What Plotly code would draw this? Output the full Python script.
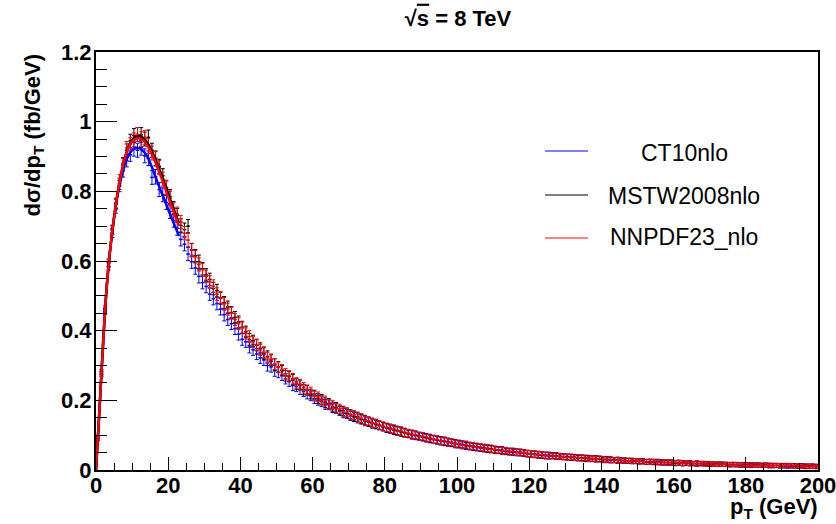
import plotly.graph_objects as go

# ---------------- data ----------------
N_BINS = 200
BIN_WIDTH = 1.0
bin_centers = [BIN_WIDTH * (i + 0.5) for i in range(N_BINS)]

series_names = ["CT10nlo", "MSTW2008nlo", "NNPDF23_nlo"]

ct10_vals = [
    0.094, 0.282, 0.462, 0.585, 0.688, 0.752, 0.815, 0.858, 0.888, 0.905,
    0.921, 0.918, 0.925, 0.902, 0.895, 0.840, 0.842, 0.805, 0.790, 0.768,
    0.742, 0.716, 0.694, 0.662, 0.648, 0.620, 0.598, 0.580, 0.556, 0.538,
    0.527, 0.505, 0.492, 0.478, 0.462, 0.446, 0.432, 0.420, 0.406, 0.390,
    0.375, 0.368, 0.353, 0.345, 0.333, 0.322, 0.316, 0.300, 0.296, 0.285,
    0.280, 0.272, 0.262, 0.255, 0.243, 0.240, 0.231, 0.226, 0.218, 0.213,
    0.205, 0.200, 0.196, 0.188, 0.187, 0.178, 0.176, 0.170, 0.163, 0.162,
    0.155, 0.154, 0.148, 0.146, 0.140, 0.140, 0.133, 0.133, 0.127, 0.125,
    0.120, 0.117, 0.116, 0.111, 0.111, 0.106, 0.104, 0.103, 0.098, 0.098,
    0.094, 0.094, 0.089, 0.089, 0.085, 0.085, 0.081, 0.081, 0.077, 0.077,
    0.073, 0.074, 0.069, 0.070, 0.066, 0.067, 0.063, 0.064, 0.060, 0.061,
    0.058, 0.056, 0.057, 0.053, 0.054, 0.051, 0.052, 0.049, 0.050, 0.046,
    0.047, 0.044, 0.045, 0.042, 0.043, 0.040, 0.042, 0.039, 0.040, 0.037,
    0.038, 0.036, 0.037, 0.034, 0.035, 0.034, 0.032, 0.033, 0.031, 0.032,
    0.029, 0.031, 0.028, 0.029, 0.027, 0.028, 0.026, 0.027, 0.025, 0.026,
    0.024, 0.026, 0.023, 0.024, 0.022, 0.024, 0.021, 0.022, 0.021, 0.022,
    0.019, 0.021, 0.020, 0.019, 0.020, 0.018, 0.019, 0.018, 0.019, 0.017,
    0.017, 0.016, 0.017, 0.016, 0.016, 0.016, 0.015, 0.016, 0.014, 0.015,
    0.015, 0.013, 0.014, 0.014, 0.013, 0.014, 0.012, 0.013, 0.013, 0.012,
    0.013, 0.011, 0.012, 0.012, 0.011, 0.012, 0.010, 0.011, 0.011, 0.010,
]

mstw_vals = [
    0.090, 0.275, 0.455, 0.595, 0.680, 0.765, 0.822, 0.880, 0.918, 0.945,
    0.960, 0.963, 0.962, 0.950, 0.955, 0.918, 0.895, 0.872, 0.845, 0.810,
    0.785, 0.752, 0.731, 0.702, 0.690, 0.700, 0.631, 0.615, 0.598, 0.578,
    0.560, 0.547, 0.521, 0.515, 0.493, 0.480, 0.468, 0.452, 0.438, 0.425,
    0.410, 0.397, 0.375, 0.371, 0.358, 0.349, 0.335, 0.326, 0.316, 0.303,
    0.296, 0.285, 0.270, 0.268, 0.259, 0.247, 0.244, 0.231, 0.229, 0.218,
    0.215, 0.205, 0.203, 0.193, 0.191, 0.182, 0.180, 0.171, 0.170, 0.162,
    0.160, 0.152, 0.153, 0.145, 0.144, 0.137, 0.136, 0.130, 0.129, 0.124,
    0.121, 0.120, 0.114, 0.114, 0.109, 0.108, 0.104, 0.101, 0.101, 0.096,
    0.096, 0.092, 0.091, 0.087, 0.087, 0.083, 0.083, 0.079, 0.079, 0.075,
    0.075, 0.071, 0.072, 0.068, 0.068, 0.065, 0.065, 0.062, 0.061, 0.061,
    0.057, 0.058, 0.055, 0.055, 0.052, 0.053, 0.050, 0.051, 0.048, 0.048,
    0.046, 0.046, 0.043, 0.044, 0.041, 0.042, 0.040, 0.041, 0.038, 0.039,
    0.037, 0.037, 0.036, 0.035, 0.035, 0.033, 0.034, 0.032, 0.033, 0.031,
    0.031, 0.030, 0.030, 0.028, 0.029, 0.027, 0.028, 0.026, 0.027, 0.025,
    0.025, 0.025, 0.023, 0.024, 0.023, 0.022, 0.023, 0.021, 0.022, 0.021,
    0.020, 0.021, 0.019, 0.020, 0.019, 0.019, 0.018, 0.019, 0.017, 0.018,
    0.017, 0.017, 0.016, 0.017, 0.016, 0.015, 0.016, 0.015, 0.015, 0.015,
    0.014, 0.015, 0.014, 0.014, 0.013, 0.014, 0.013, 0.013, 0.013, 0.012,
    0.012, 0.013, 0.012, 0.012, 0.011, 0.012, 0.011, 0.011, 0.011, 0.010,
]

nnpdf_vals = [
    0.088, 0.278, 0.458, 0.592, 0.690, 0.762, 0.832, 0.878, 0.925, 0.935,
    0.948, 0.963, 0.950, 0.955, 0.930, 0.910, 0.893, 0.868, 0.835, 0.812,
    0.780, 0.748, 0.735, 0.712, 0.680, 0.660, 0.632, 0.612, 0.590, 0.575,
    0.556, 0.540, 0.528, 0.505, 0.495, 0.477, 0.462, 0.450, 0.432, 0.420,
    0.408, 0.392, 0.383, 0.368, 0.360, 0.345, 0.338, 0.322, 0.318, 0.304,
    0.295, 0.288, 0.276, 0.270, 0.262, 0.250, 0.246, 0.236, 0.230, 0.224,
    0.212, 0.210, 0.200, 0.198, 0.189, 0.187, 0.177, 0.176, 0.167, 0.166,
    0.158, 0.158, 0.150, 0.149, 0.142, 0.141, 0.135, 0.134, 0.129, 0.126,
    0.123, 0.118, 0.118, 0.112, 0.112, 0.106, 0.106, 0.101, 0.102, 0.096,
    0.097, 0.091, 0.092, 0.087, 0.088, 0.083, 0.084, 0.079, 0.080, 0.075,
    0.076, 0.071, 0.073, 0.068, 0.069, 0.065, 0.066, 0.062, 0.063, 0.059,
    0.059, 0.057, 0.055, 0.056, 0.052, 0.054, 0.050, 0.051, 0.049, 0.047,
    0.047, 0.045, 0.044, 0.044, 0.041, 0.042, 0.040, 0.040, 0.039, 0.038,
    0.036, 0.038, 0.035, 0.036, 0.033, 0.035, 0.032, 0.033, 0.031, 0.032,
    0.030, 0.029, 0.030, 0.028, 0.028, 0.027, 0.027, 0.027, 0.025, 0.026,
    0.025, 0.024, 0.024, 0.023, 0.024, 0.022, 0.022, 0.022, 0.021, 0.021,
    0.021, 0.020, 0.019, 0.020, 0.019, 0.018, 0.019, 0.018, 0.018, 0.017,
    0.018, 0.016, 0.017, 0.016, 0.016, 0.015, 0.016, 0.015, 0.016, 0.014,
    0.014, 0.015, 0.013, 0.014, 0.014, 0.013, 0.014, 0.012, 0.013, 0.013,
    0.012, 0.012, 0.013, 0.011, 0.012, 0.011, 0.012, 0.010, 0.011, 0.011,
]

bin_errors = [
    0.005, 0.007, 0.009, 0.011, 0.013, 0.015, 0.016, 0.017, 0.018, 0.019,
    0.020, 0.020, 0.021, 0.020, 0.021, 0.020, 0.021, 0.020, 0.020, 0.020,
    0.020, 0.019, 0.020, 0.019, 0.019, 0.019, 0.019, 0.018, 0.019, 0.018,
    0.018, 0.018, 0.018, 0.018, 0.017, 0.018, 0.017, 0.017, 0.017, 0.017,
    0.017, 0.016, 0.017, 0.016, 0.016, 0.016, 0.016, 0.016, 0.015, 0.016,
    0.015, 0.015, 0.015, 0.015, 0.015, 0.015, 0.014, 0.015, 0.014, 0.014,
    0.014, 0.014, 0.014, 0.014, 0.014, 0.013, 0.014, 0.013, 0.013, 0.013,
    0.013, 0.013, 0.013, 0.013, 0.013, 0.012, 0.013, 0.012, 0.012, 0.012,
    0.012, 0.012, 0.012, 0.012, 0.012, 0.012, 0.011, 0.012, 0.011, 0.011,
    0.011, 0.011, 0.011, 0.011, 0.011, 0.011, 0.011, 0.011, 0.010, 0.011,
    0.010, 0.010, 0.010, 0.010, 0.010, 0.010, 0.010, 0.010, 0.010, 0.010,
    0.010, 0.009, 0.010, 0.009, 0.009, 0.009, 0.009, 0.009, 0.009, 0.009,
    0.009, 0.009, 0.009, 0.009, 0.009, 0.009, 0.008, 0.009, 0.008, 0.008,
    0.008, 0.008, 0.008, 0.008, 0.008, 0.008, 0.008, 0.008, 0.008, 0.008,
    0.008, 0.008, 0.008, 0.007, 0.008, 0.007, 0.007, 0.007, 0.007, 0.007,
    0.007, 0.007, 0.007, 0.007, 0.007, 0.007, 0.007, 0.007, 0.007, 0.007,
    0.007, 0.007, 0.007, 0.006, 0.007, 0.006, 0.007, 0.006, 0.006, 0.006,
    0.006, 0.006, 0.006, 0.006, 0.006, 0.006, 0.006, 0.006, 0.006, 0.006,
    0.006, 0.006, 0.006, 0.006, 0.006, 0.006, 0.006, 0.006, 0.006, 0.006,
    0.006, 0.006, 0.006, 0.006, 0.006, 0.006, 0.006, 0.006, 0.006, 0.006,
]

# smooth curves over the low-pT region
curve_pt = [0, 1, 2, 3, 4, 5, 6, 7, 8, 9, 10, 11, 12, 13, 14, 15, 16, 17, 18, 19, 20, 21, 22, 23]
ct10_curve = [0.0, 0.18, 0.37, 0.53, 0.64, 0.722, 0.79, 0.84, 0.878, 0.903, 0.918, 0.925,
              0.924, 0.916, 0.904, 0.882, 0.855, 0.827, 0.800, 0.775, 0.748, 0.722, 0.697, 0.672]
mstw_curve = [0.0, 0.18, 0.37, 0.53, 0.64, 0.725, 0.795, 0.852, 0.895, 0.928, 0.947, 0.956,
              0.958, 0.953, 0.942, 0.925, 0.903, 0.878, 0.851, 0.822, 0.793, 0.763, 0.735, 0.708]
nnpdf_curve = [0.0, 0.18, 0.37, 0.53, 0.64, 0.725, 0.795, 0.852, 0.895, 0.925, 0.943, 0.951,
               0.952, 0.947, 0.935, 0.917, 0.895, 0.869, 0.842, 0.813, 0.784, 0.755, 0.727, 0.700]

x_ticks = [0, 20, 40, 60, 80, 100, 120, 140, 160, 180, 200]
y_ticks = [0, 0.2, 0.4, 0.6, 0.8, 1.0, 1.2]
y_tick_text = ["0", "0.2", "0.4", "0.6", "0.8", "1", "1.2"]

# ---------------- styling ----------------
colors = {"CT10nlo": "#0000ff", "MSTW2008nlo": "#000000", "NNPDF23_nlo": "#ff0000"}
FONT = "Liberation Sans, Arial, Helvetica, sans-serif"

fig = go.Figure()

points = {"CT10nlo": ct10_vals, "MSTW2008nlo": mstw_vals, "NNPDF23_nlo": nnpdf_vals}
curves = {"CT10nlo": ct10_curve, "MSTW2008nlo": mstw_curve, "NNPDF23_nlo": nnpdf_curve}

for name in series_names:
    c = colors[name]
    fig.add_trace(go.Scatter(
        x=bin_centers, y=points[name], mode="markers",
        marker=dict(size=1, color=c),
        error_y=dict(type="data", array=bin_errors, visible=True, color=c, thickness=1, width=2),
        error_x=dict(type="constant", value=BIN_WIDTH / 2, visible=True, color=c, thickness=1.5, width=0),
        showlegend=False, hoverinfo="skip",
    ))

for name in series_names:
    c = colors[name]
    fig.add_trace(go.Scatter(
        x=curve_pt, y=curves[name], mode="lines",
        line=dict(color=c, width=2.5, shape="spline", smoothing=1.0),
        showlegend=False, hoverinfo="skip",
    ))

L, R, T, B = 96, 18, 52, 54
W, H = 836, 524
PW, PH = W - L - R, H - T - B


def px2x(px):
    return (px - L) / PW


def px2y(py):
    return (H - B - py) / PH


# legend built from shapes + annotations
legend_line_y = [151, 195, 238]
legend_text_y = [153, 196, 237]
for i, name in enumerate(series_names):
    fig.add_shape(type="line", xref="paper", yref="paper",
                  x0=px2x(545), x1=px2x(588), y0=px2y(legend_line_y[i]), y1=px2y(legend_line_y[i]),
                  line=dict(color=colors[name], width=1))
    fig.add_annotation(text=name, xref="paper", yref="paper",
                       x=px2x(684), y=px2y(legend_text_y[i]), xanchor="center", yanchor="middle",
                       showarrow=False, font=dict(family=FONT, size=23, color="black"))

# axis titles
fig.add_annotation(text="<b>dσ/dp<sub>T</sub> (fb/GeV)</b>", xref="paper", yref="paper",
                   x=px2x(33), y=px2y(52), xanchor="center", yanchor="top", textangle=-90,
                   showarrow=False, font=dict(family=FONT, size=22, color="black"))
fig.add_annotation(text="<b>p<sub>T</sub> (GeV)</b>", xref="paper", yref="paper",
                   x=px2x(820), y=px2y(492), xanchor="right", yanchor="top",
                   showarrow=False, font=dict(family=FONT, size=22, color="black"))

fig.update_layout(
    width=W, height=H,
    margin=dict(l=L, r=R, t=T, b=B, pad=0, autoexpand=False),
    paper_bgcolor="white", plot_bgcolor="white",
    title=dict(text="<b>√<span style='text-decoration:overline'>s</span> = 8 TeV</b>",
               x=458 / W, xanchor="center",
               y=1 - 18 / H, yanchor="middle",
               font=dict(family=FONT, size=22, color="black")),
    xaxis=dict(range=[0, 200], tickmode="array", tickvals=x_ticks, automargin=False,
               ticks="inside", ticklen=13, tickwidth=1, tickcolor="black",
               ticklabelstandoff=-5, ticklabeloverflow="allow",
               minor=dict(dtick=5, ticks="inside", ticklen=7, tickwidth=1, tickcolor="black", showgrid=False),
               showline=True, linecolor="black", linewidth=2, mirror=True,
               showgrid=False, zeroline=False,
               tickfont=dict(family=FONT, size=22, color="black", weight="bold")),
    yaxis=dict(range=[0, 1.2], tickmode="array", tickvals=y_ticks, ticktext=y_tick_text, automargin=False,
               ticks="inside", ticklen=21, tickwidth=1, tickcolor="black",
               ticklabelstandoff=-2, ticklabeloverflow="allow",
               minor=dict(dtick=0.05, ticks="inside", ticklen=11, tickwidth=1, tickcolor="black", showgrid=False),
               showline=True, linecolor="black", linewidth=2, mirror=True,
               showgrid=False, zeroline=False,
               tickfont=dict(family=FONT, size=22, color="black", weight="bold")),
)

fig.write_html("out.html")
